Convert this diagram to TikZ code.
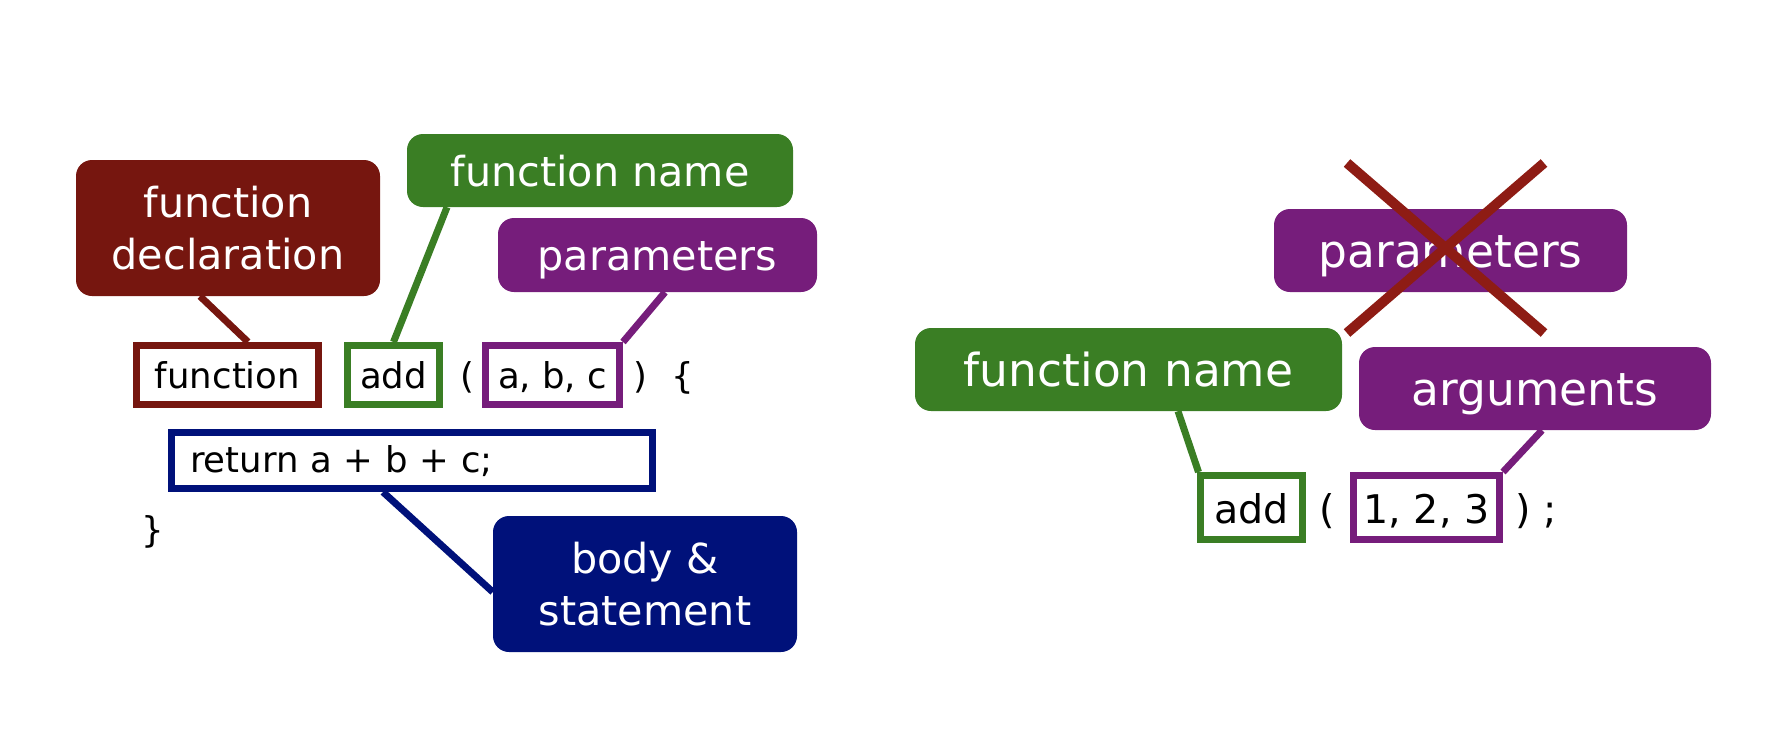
\documentclass[tikz,border=0pt]{standalone}
\usepackage{fontspec}
\setmainfont{DejaVu Sans}
\usetikzlibrary{backgrounds}
\definecolor{declred}{HTML}{76160F}
\definecolor{fgreen}{HTML}{3A7E24}
\definecolor{fpurple}{HTML}{761D7B}
\definecolor{fnavy}{HTML}{00117A}
\definecolor{xred}{HTML}{8E1C14}
\begin{document}
\begin{tikzpicture}[x=1pt,y=-1pt,
  lab/.style={rectangle, rounded corners=16pt, inner sep=0pt, text=white, align=center},
  labL/.style={lab, font=\fontsize{41.3}{52}\selectfont},
  labR/.style={lab, font=\fontsize{45.5}{54}\selectfont},
  oneL/.style={text height=31.4pt, text depth=0pt},
  oneR/.style={text height=34.6pt, text depth=0pt},
  codebox/.style={rectangle, line width=7pt, fill=white, inner sep=0pt, text=black, font=\fontsize{35.5}{42}\selectfont, text height=27pt, text depth=0pt},
  codeboxR/.style={codebox, font=\fontsize{39.5}{46}\selectfont, text height=31pt, text depth=0pt},
  plain/.style={inner sep=0pt, anchor=base, text=black, font=\fontsize{35.5}{42}\selectfont},
  plainR/.style={plain, font=\fontsize{39.5}{46}\selectfont},
  conn/.style={line width=7pt},
  cross/.style={line width=10pt, draw=xred}
]
\useasboundingbox (0,0) rectangle (1774,750);

% ---------- left side ----------
\node[labL, fill=declred, minimum width=304pt, minimum height=136pt] (decl) at (228,228) {function\\declaration};
\node[labL, oneL, fill=fgreen, minimum width=386pt, minimum height=73pt] (fnL) at (600,170.5) {function name};
\node[labL, oneL, fill=fpurple, minimum width=319pt, minimum height=74pt] (parL) at (657.5,255) {parameters};
\node[labL, fill=fnavy, minimum width=304pt, minimum height=136pt] (body) at (645,584) {body \&\\statement};

\node[codebox, draw=declred, minimum width=182pt, minimum height=59pt] (kw) at (227.5,375) {function};
\node[codebox, draw=fgreen, minimum width=92pt, minimum height=59pt] (addL) at (393.5,375) {add};
\node[plain] (lpL) at (467,388) {(};
\node[codebox, draw=fpurple, minimum width=134pt, minimum height=59pt] (abc) at (552.5,375) {a, b, c};
\node[plain] (rpL) at (640,388) {)};
\node[plain] (lbr) at (683,388) {\{};
\node[codebox, draw=fnavy, minimum height=56pt, text width=444pt, inner xsep=18.5pt, align=left, text height=27pt, text depth=4pt] (ret) at (412,460.5) {return a + b + c;};
\node[plain] (rbr) at (153,542) {\}};

% ---------- right side ----------
\node[labR, oneR, fill=fpurple, minimum width=353pt, minimum height=83pt] (parR) at (1450.5,250.5) {parameters};
\node[labR, oneR, fill=fgreen, minimum width=427pt, minimum height=83pt] (fnR) at (1128.5,369.5) {function name};
\node[labR, oneR, fill=fpurple, minimum width=352pt, minimum height=83pt] (args) at (1535,388.5) {arguments};

\node[codeboxR, draw=fgreen, minimum width=102pt, minimum height=64pt] (addR) at (1251.5,507.5) {add};
\node[plainR] (lpR) at (1327,523) {(};
\node[codeboxR, draw=fpurple, minimum width=146pt, minimum height=64pt] (nums) at (1426.5,507.5) {1, 2, 3};
\node[plainR] (rpR) at (1536,523) {) ;};

% ---------- connectors ----------
\begin{scope}[on background layer]
  \draw[conn, draw=declred] ([xshift=-28pt]decl.south) -- ([xshift=20.5pt]kw.north);
  \draw[conn, draw=fgreen] ([xshift=-153pt]fnL.south) -- (addL.north);
  \draw[conn, draw=fpurple] ([xshift=7.5pt]parL.south) -- (abc.north east);
  \draw[conn, draw=fnavy] ([xshift=-29pt]ret.south) -- ([yshift=-8pt]body.west);
  \draw[conn, draw=fgreen] ([xshift=49.5pt]fnR.south) -- ([xshift=1.5pt]addR.north west);
  \draw[conn, draw=fpurple] ([xshift=7pt]args.south) -- (nums.north east);
\end{scope}

% ---------- cross over "parameters" ----------
\draw[cross] (1347,163) -- (1544,333);
\draw[cross] (1544,163) -- (1347,333);
\end{tikzpicture}
\end{document}
